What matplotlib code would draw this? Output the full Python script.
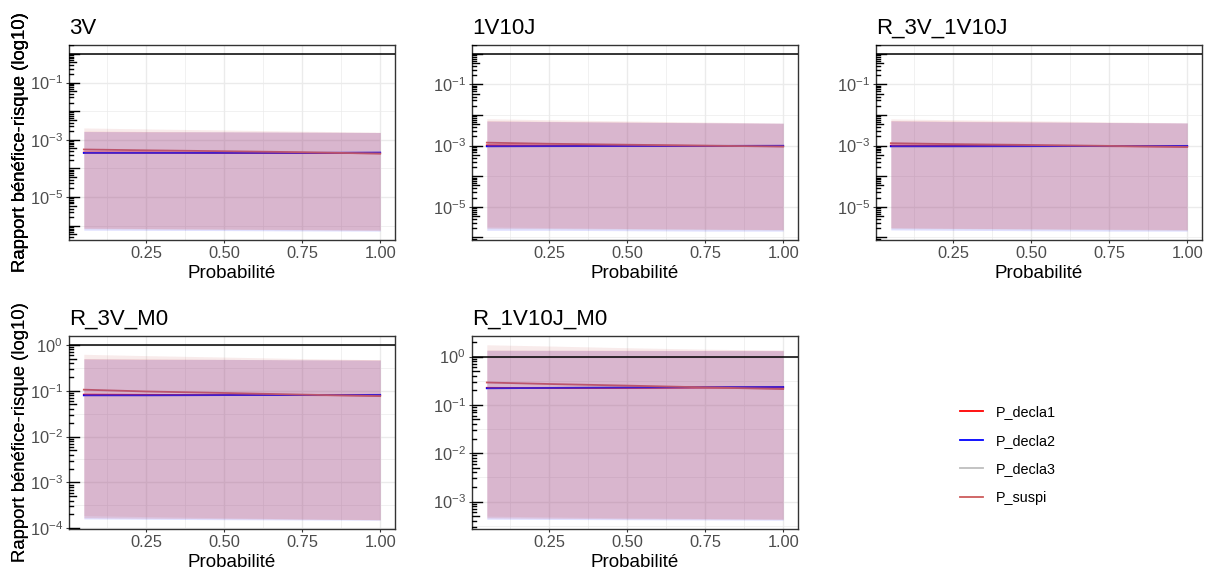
import numpy as np
import matplotlib
matplotlib.use('Agg')
import matplotlib.pyplot as plt
from matplotlib.lines import Line2D
from matplotlib.ticker import NullFormatter

plt.rcParams['font.family'] = ['Liberation Sans', 'DejaVu Sans']
plt.rcParams['mathtext.fontset'] = 'custom'
plt.rcParams['mathtext.rm'] = 'Liberation Sans'
plt.rcParams['mathtext.it'] = 'Liberation Sans:italic'
plt.rcParams['mathtext.bf'] = 'Liberation Sans:bold'

# probabilités
proba = [0.05, 0.25, 0.50, 0.75, 1.00]

series = ['P_decla1', 'P_decla2', 'P_decla3', 'P_suspi']
couleurs = ['#FF0000', '#0000FF', '#BEBEBE', '#CD5C5C']

# 3V
med_3V = [[3.6e-4, 3.6e-4, 3.5e-4, 3.5e-4, 3.4e-4],
          [3.5e-4, 3.5e-4, 3.5e-4, 3.5e-4, 3.6e-4],
          [3.5e-4, 3.5e-4, 3.5e-4, 3.5e-4, 3.5e-4],
          [4.6e-4, 4.3e-4, 4.0e-4, 3.7e-4, 3.3e-4]]
bas_3V = [[8.0e-7, 7.8e-7, 7.6e-7, 7.4e-7, 7.2e-7],
          [7.0e-7, 6.9e-7, 6.8e-7, 6.6e-7, 6.5e-7],
          [7.8e-7, 7.6e-7, 7.4e-7, 7.2e-7, 7.0e-7],
          [8.5e-7, 8.0e-7, 7.6e-7, 7.2e-7, 6.8e-7]]
haut_3V = [[2.0e-3, 1.95e-3, 1.9e-3, 1.85e-3, 1.8e-3],
           [1.95e-3, 1.9e-3, 1.9e-3, 1.85e-3, 1.8e-3],
           [2.0e-3, 1.95e-3, 1.9e-3, 1.85e-3, 1.8e-3],
           [2.6e-3, 2.4e-3, 2.2e-3, 2.0e-3, 1.85e-3]]

# 1V10J
med_1V10J = [[1.02e-3, 1.0e-3, 1.0e-3, 0.98e-3, 0.96e-3],
             [0.95e-3, 0.96e-3, 0.97e-3, 0.98e-3, 0.99e-3],
             [0.96e-3, 0.97e-3, 0.97e-3, 0.98e-3, 0.98e-3],
             [1.25e-3, 1.15e-3, 1.07e-3, 1.0e-3, 0.93e-3]]
bas_1V10J = [[2.0e-6, 1.95e-6, 1.9e-6, 1.85e-6, 1.8e-6],
             [1.7e-6, 1.7e-6, 1.65e-6, 1.6e-6, 1.6e-6],
             [1.9e-6, 1.85e-6, 1.8e-6, 1.75e-6, 1.7e-6],
             [2.2e-6, 2.1e-6, 1.95e-6, 1.85e-6, 1.75e-6]]
haut_1V10J = [[6.5e-3, 6.2e-3, 5.9e-3, 5.6e-3, 5.4e-3],
              [6.3e-3, 6.1e-3, 5.8e-3, 5.6e-3, 5.4e-3],
              [6.5e-3, 6.2e-3, 5.9e-3, 5.6e-3, 5.4e-3],
              [7.6e-3, 7.0e-3, 6.4e-3, 5.9e-3, 5.4e-3]]

# R_3V_1V10J
med_R_3V_1V10J = [[1.0e-3, 1.0e-3, 0.98e-3, 0.96e-3, 0.94e-3],
                  [0.95e-3, 0.95e-3, 0.96e-3, 0.97e-3, 0.98e-3],
                  [0.95e-3, 0.96e-3, 0.96e-3, 0.97e-3, 0.97e-3],
                  [1.2e-3, 1.12e-3, 1.05e-3, 0.98e-3, 0.9e-3]]
bas_R_3V_1V10J = [[2.0e-6, 1.95e-6, 1.9e-6, 1.85e-6, 1.8e-6],
                  [1.75e-6, 1.7e-6, 1.65e-6, 1.6e-6, 1.6e-6],
                  [1.9e-6, 1.85e-6, 1.8e-6, 1.75e-6, 1.7e-6],
                  [2.1e-6, 2.0e-6, 1.9e-6, 1.8e-6, 1.7e-6]]
haut_R_3V_1V10J = [[6.6e-3, 6.3e-3, 6.0e-3, 5.7e-3, 5.5e-3],
                   [6.4e-3, 6.1e-3, 5.9e-3, 5.7e-3, 5.5e-3],
                   [6.6e-3, 6.3e-3, 6.0e-3, 5.7e-3, 5.5e-3],
                   [7.5e-3, 7.0e-3, 6.5e-3, 6.0e-3, 5.5e-3]]

# R_3V_M0
med_R_3V_M0 = [[0.082, 0.081, 0.080, 0.080, 0.079],
               [0.079, 0.079, 0.080, 0.080, 0.081],
               [0.080, 0.080, 0.080, 0.080, 0.080],
               [0.105, 0.096, 0.089, 0.082, 0.076]]
bas_R_3V_M0 = [[1.7e-4, 1.66e-4, 1.62e-4, 1.58e-4, 1.55e-4],
               [1.6e-4, 1.57e-4, 1.54e-4, 1.52e-4, 1.5e-4],
               [1.7e-4, 1.66e-4, 1.62e-4, 1.58e-4, 1.55e-4],
               [1.9e-4, 1.8e-4, 1.7e-4, 1.6e-4, 1.52e-4]]
haut_R_3V_M0 = [[0.50, 0.49, 0.48, 0.47, 0.47],
                [0.49, 0.48, 0.48, 0.47, 0.46],
                [0.50, 0.49, 0.48, 0.47, 0.47],
                [0.62, 0.58, 0.54, 0.50, 0.47]]

# R_1V10J_M0
med_R_1V10J_M0 = [[0.225, 0.222, 0.225, 0.228, 0.226],
                  [0.220, 0.224, 0.228, 0.232, 0.235],
                  [0.222, 0.225, 0.228, 0.230, 0.232],
                  [0.290, 0.270, 0.250, 0.230, 0.212]]
bas_R_1V10J_M0 = [[4.6e-4, 4.5e-4, 4.4e-4, 4.35e-4, 4.3e-4],
                  [4.3e-4, 4.25e-4, 4.2e-4, 4.15e-4, 4.1e-4],
                  [4.6e-4, 4.5e-4, 4.4e-4, 4.35e-4, 4.3e-4],
                  [5.0e-4, 4.8e-4, 4.6e-4, 4.45e-4, 4.3e-4]]
haut_R_1V10J_M0 = [[1.36, 1.35, 1.35, 1.34, 1.34],
                   [1.34, 1.34, 1.33, 1.33, 1.32],
                   [1.36, 1.35, 1.35, 1.34, 1.34],
                   [1.75, 1.65, 1.52, 1.42, 1.35]]

titres = ['3V', '1V10J', 'R_3V_1V10J', 'R_3V_M0', 'R_1V10J_M0']
meds = [med_3V, med_1V10J, med_R_3V_1V10J, med_R_3V_M0, med_R_1V10J_M0]
bas = [bas_3V, bas_1V10J, bas_R_3V_1V10J, bas_R_3V_M0, bas_R_1V10J_M0]
hauts = [haut_3V, haut_1V10J, haut_R_3V_1V10J, haut_R_3V_M0, haut_R_1V10J_M0]
breaks = [[-5, -3, -1], [-5, -3, -1], [-5, -3, -1],
          [-4, -3, -2, -1, 0], [-3, -2, -1, 0]]

W, H = 1210, 580
# position des panneaux en pixels (gauche, haut, largeur, hauteur)
positions = [(69, 45, 326, 195), (472, 45, 326, 195), (876, 45, 326, 195),
             (69, 336, 326, 193), (472, 336, 326, 193)]

fig = plt.figure(figsize=(W / 100, H / 100), dpi=100)

for k in range(5):
    px, py, pw, ph = positions[k]
    ax = fig.add_axes([px / W, 1 - (py + ph) / H, pw / W, ph / H])
    ax.set_yscale('log')

    for i in [2, 0, 1, 3]:
        ax.plot(proba, meds[k][i], color=couleurs[i], lw=1.3, zorder=3)
    for i in range(4):
        ax.fill_between(proba, bas[k][i], hauts[k][i], color=couleurs[i],
                        alpha=0.12, lw=0, zorder=4)
    ax.axhline(1, color='black', lw=1.1, zorder=5)

    # graduations et grille
    ax.set_xticks([0.25, 0.5, 0.75, 1.0], ['0.25', '0.50', '0.75', '1.00'])
    ax.set_xticks([0.125, 0.375, 0.625, 0.875], minor=True)
    b = breaks[k]
    ax.set_yticks([10.0 ** e for e in b], [rf'$10^{{{e}}}$' for e in b])
    step = b[1] - b[0]
    mineurs = [e + step / 2 for e in range(b[0] - step, b[-1] + step, step)]
    ax.set_yticks([10.0 ** e for e in mineurs], minor=True)
    ax.yaxis.set_minor_formatter(NullFormatter())
    ax.xaxis.set_minor_formatter(NullFormatter())
    ax.grid(which='major', color='#ebebeb', lw=1.0)
    ax.grid(which='minor', color='#ebebeb', lw=0.5)
    ax.set_axisbelow(True)
    ax.tick_params(which='major', direction='out', length=2.5, width=0.8,
                   color='#333333', labelcolor='#4d4d4d', labelsize=11.8, pad=2)
    ax.tick_params(which='minor', length=0)
    for s in ax.spines.values():
        s.set_color('#333333')
        s.set_linewidth(1.0)

    # limites comme ggplot (expansion 5 %), après les graduations
    vals = np.log10(np.concatenate([np.ravel(bas[k]), np.ravel(hauts[k]), [1.0]]))
    lo, hi = vals.min(), vals.max()
    pad = 0.05 * (hi - lo)
    ax.set_ylim(10 ** (lo - pad), 10 ** (hi + pad))
    ax.set_xlim(0.05 - 0.0475, 1.0 + 0.0475)

    # logticks sur le bord gauche
    for d in range(int(np.floor(lo - pad)), int(np.ceil(hi + pad)) + 1):
        for m in range(1, 10):
            v = m * 10.0 ** d
            if m == 1:
                L = 10
            elif m == 5:
                L = 6.5
            else:
                L = 4
            ax.plot([0, L / pw], [v, v], transform=ax.get_yaxis_transform(),
                    color='black', lw=1.0, zorder=6, clip_on=True)
    ax.set_ylim(10 ** (lo - pad), 10 ** (hi + pad))

    ax.set_title(titres[k], loc='left', fontsize=16, pad=8, color='black')
    ax.set_xlabel('Probabilité', fontsize=13.5)
    ax.xaxis.set_label_coords(0.5, -(265 - 240) / ph)
    ax.set_ylabel('Rapport bénéfice-risque (log10)', fontsize=13.3)
    ax.yaxis.set_label_coords(-(px - 29) / pw, 0.5)

handles = [Line2D([], [], color=c, lw=1.3) for c in couleurs]
fig.legend(handles, series, loc='center left',
           bbox_to_anchor=(960 / W, 1 - 455 / H), frameon=False,
           fontsize=10.4, handlelength=1.6, handletextpad=0.9,
           labelspacing=1.0, borderpad=0, borderaxespad=0)

fig.savefig('out.png', dpi=100)
